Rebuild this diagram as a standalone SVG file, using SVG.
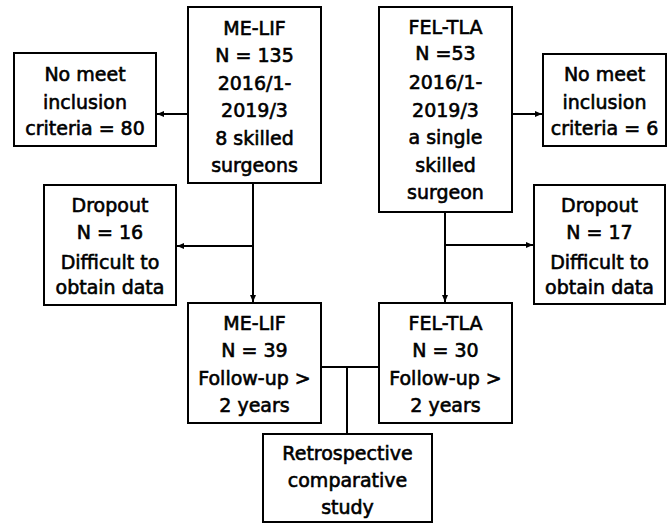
<svg xmlns="http://www.w3.org/2000/svg" width="671" height="525" viewBox="0 0 671 525">
<defs>
<marker id="ah" markerWidth="8" markerHeight="8" refX="7" refY="4" orient="auto" markerUnits="userSpaceOnUse">
<path d="M0,1 L7,4 L0,7 Z" fill="#000"/>
</marker>
<style>
.box{fill:#fff;stroke:#000;stroke-width:2}
.t{font-family:"DejaVu Sans","Noto Sans CJK JP",sans-serif;font-size:19px;text-anchor:middle;fill:#000;stroke:#000;stroke-width:0.6}
.c{fill:none;stroke:#000;stroke-width:2}
</style>
</defs>
<rect width="671" height="525" fill="#fff"/>
<g id="connectors">
<line class="c" x1="188" y1="114" x2="157" y2="114" marker-end="url(#ah)"/>
<line class="c" x1="253" y1="183" x2="253" y2="302" marker-end="url(#ah)"/>
<line class="c" x1="253" y1="246" x2="177" y2="246" marker-end="url(#ah)"/>
<line class="c" x1="512" y1="114" x2="542" y2="114" marker-end="url(#ah)"/>
<line class="c" x1="445" y1="212" x2="445" y2="302" marker-end="url(#ah)"/>
<line class="c" x1="445" y1="245" x2="533" y2="245" marker-end="url(#ah)"/>
<line class="c" x1="321" y1="367" x2="379" y2="367"/>
<line class="c" x1="347" y1="367" x2="347" y2="434"/>
</g>
<g id="melif-top">
<rect class="box" x="188" y="7" width="133" height="176"/>
<text class="t" x="254.5" y="35">ME-LIF</text>
<text class="t" x="254.5" y="62">N = 135</text>
<text class="t" x="254.5" y="90">2016/1-</text>
<text class="t" x="254.5" y="117">2019/3</text>
<text class="t" x="254.5" y="145">8 skilled</text>
<text class="t" x="254.5" y="172">surgeons</text>
</g>
<g id="nomeet-left">
<rect class="box" x="14" y="53" width="142" height="93"/>
<text class="t" x="85" y="81">No meet</text>
<text class="t" x="85" y="109">inclusion</text>
<text class="t" x="85" y="135">criteria = 80</text>
</g>
<g id="dropout-left">
<rect class="box" x="44" y="185" width="132" height="120"/>
<text class="t" x="110" y="212">Dropout</text>
<text class="t" x="110" y="239">N = 16</text>
<text class="t" x="110" y="269">Difficult to</text>
<text class="t" x="110" y="294">obtain data</text>
</g>
<g id="feltla-top">
<rect class="box" x="379" y="7" width="133" height="205"/>
<text class="t" x="445.5" y="34">FEL-TLA</text>
<text class="t" x="445.5" y="60">N =53</text>
<text class="t" x="445.5" y="89">2016/1-</text>
<text class="t" x="445.5" y="117">2019/3</text>
<text class="t" x="445.5" y="144">a single</text>
<text class="t" x="445.5" y="172">skilled</text>
<text class="t" x="445.5" y="199">surgeon</text>
</g>
<g id="nomeet-right">
<rect class="box" x="543" y="54" width="123" height="92"/>
<text class="t" x="604.5" y="81">No meet</text>
<text class="t" x="604.5" y="109">inclusion</text>
<text class="t" x="604.5" y="135">criteria = 6</text>
</g>
<g id="dropout-right">
<rect class="box" x="534" y="185" width="131" height="119"/>
<text class="t" x="599.5" y="212">Dropout</text>
<text class="t" x="599.5" y="239">N = 17</text>
<text class="t" x="599.5" y="269">Difficult to</text>
<text class="t" x="599.5" y="294">obtain data</text>
</g>
<g id="melif-bottom">
<rect class="box" x="188" y="303" width="133" height="120"/>
<text class="t" x="254.5" y="330">ME-LIF</text>
<text class="t" x="254.5" y="357">N = 39</text>
<text class="t" x="254.5" y="385">Follow-up &gt;</text>
<text class="t" x="254.5" y="412">2 years</text>
</g>
<g id="feltla-bottom">
<rect class="box" x="379" y="303" width="133" height="120"/>
<text class="t" x="445.5" y="330">FEL-TLA</text>
<text class="t" x="445.5" y="357">N = 30</text>
<text class="t" x="445.5" y="385">Follow-up &gt;</text>
<text class="t" x="445.5" y="412">2 years</text>
</g>
<g id="retrospective">
<rect class="box" x="263" y="434" width="169" height="88"/>
<text class="t" x="347.5" y="460">Retrospective</text>
<text class="t" x="347.5" y="487">comparative</text>
<text class="t" x="347.5" y="514">study</text>
</g>
</svg>
